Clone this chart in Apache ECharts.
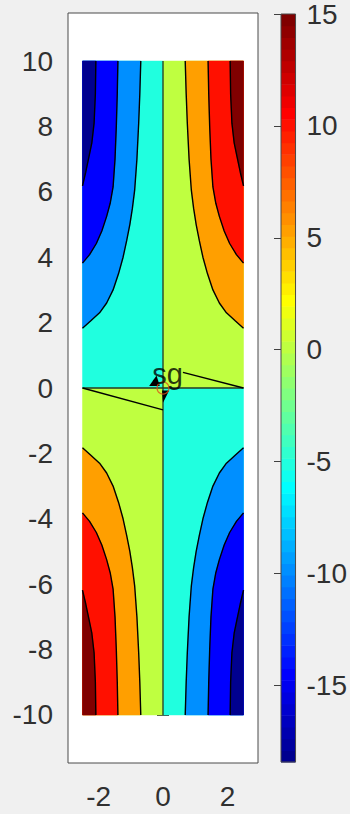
<!DOCTYPE html>
<html><head><meta charset="utf-8">
<script src="https://cdn.jsdelivr.net/npm/echarts@6/dist/echarts.min.js"></script>
<style>html,body{margin:0;padding:0;background:#f0f0f0;}#c{width:350px;height:814px;}</style>
</head><body><div id="c"></div>
<script>
// ---- data ----
const xTicks = [-2, 0, 2];
const yTicks = [-10, -8, -6, -4, -2, 0, 2, 4, 6, 8, 10];
const cbarTicks = [-15, -10, -5, 0, 5, 10, 15];
const cbarRange = [-18.42, 15.0];
const xLimits = [-2.95, 2.95];
const yLimits = [-11.47, 11.47];

// contour line level c
const curveC_UL = [[-0.69,10],[-0.72,9],[-0.755,8.1],[-0.81,7],[-0.88,6.05],[-0.95,5.5],[-1.03,5],[-1.13,4.5],[-1.24,4],[-1.38,3.5],[-1.55,3],[-1.75,2.6],[-1.97,2.3],[-2.25,2.05],[-2.5,1.83]];
const curveC_UR = [[0.69,10],[0.72,9],[0.755,8.1],[0.81,7],[0.88,6.05],[0.95,5.5],[1.03,5],[1.13,4.5],[1.24,4],[1.38,3.5],[1.55,3],[1.75,2.6],[1.97,2.3],[2.25,2.05],[2.5,1.83]];
const curveC_LL = [[-0.69,-10],[-0.72,-9],[-0.755,-8.1],[-0.81,-7],[-0.88,-6.05],[-0.95,-5.5],[-1.03,-5],[-1.13,-4.5],[-1.24,-4],[-1.38,-3.5],[-1.55,-3],[-1.75,-2.6],[-1.97,-2.3],[-2.25,-2.05],[-2.5,-1.83]];
const curveC_LR = [[0.69,-10],[0.72,-9],[0.755,-8.1],[0.81,-7],[0.88,-6.05],[0.95,-5.5],[1.03,-5],[1.13,-4.5],[1.24,-4],[1.38,-3.5],[1.55,-3],[1.75,-2.6],[1.97,-2.3],[2.25,-2.05],[2.5,-1.83]];
// level 2c
const curve2C_UL = [[-1.40,10],[-1.42,9],[-1.45,8],[-1.49,7],[-1.55,6.15],[-1.64,5.65],[-1.75,5.25],[-1.9,4.8],[-2.07,4.42],[-2.28,4.08],[-2.5,3.82]];
const curve2C_UR = [[1.40,10],[1.42,9],[1.45,8],[1.49,7],[1.55,6.15],[1.64,5.65],[1.75,5.25],[1.9,4.8],[2.07,4.42],[2.28,4.08],[2.5,3.82]];
const curve2C_LL = [[-1.40,-10],[-1.42,-9],[-1.45,-8],[-1.49,-7],[-1.55,-6.15],[-1.64,-5.65],[-1.75,-5.25],[-1.9,-4.8],[-2.07,-4.42],[-2.28,-4.08],[-2.5,-3.82]];
const curve2C_LR = [[1.40,-10],[1.42,-9],[1.45,-8],[1.49,-7],[1.55,-6.15],[1.64,-5.65],[1.75,-5.25],[1.9,-4.8],[2.07,-4.42],[2.28,-4.08],[2.5,-3.82]];
// level 3c
const curve3C_UL = [[-2.085,10],[-2.1,9],[-2.14,8.1],[-2.21,7.5],[-2.30,7.07],[-2.4,6.6],[-2.5,6.18]];
const curve3C_UR = [[2.085,10],[2.1,9],[2.14,8.1],[2.21,7.5],[2.30,7.07],[2.4,6.6],[2.5,6.18]];
const curve3C_LL = [[-2.085,-10],[-2.1,-9],[-2.14,-8.1],[-2.21,-7.5],[-2.30,-7.07],[-2.4,-6.6],[-2.5,-6.18]];
const curve3C_LR = [[2.085,-10],[2.1,-9],[2.14,-8.1],[2.21,-7.5],[2.30,-7.07],[2.4,-6.6],[2.5,-6.18]];

// quadrant rectangles of the data domain
const quadUL = [[-2.5,0],[0,0],[0,10],[-2.5,10]];
const quadUR = [[0,0],[2.5,0],[2.5,10],[0,10]];
const quadLL = [[-2.5,-10],[0,-10],[0,0],[-2.5,0]];
const quadLR = [[0,-10],[2.5,-10],[2.5,0],[0,0]];

// overlay
const zeroV = [[0,-10],[0,10]];
const zeroH = [[-2.5,0],[2.5,0]];
const pathA = [[-2.5,0],[0,-0.67]];
const pathB = [[2.5,0],[0.62,0.48]];
const arrowA = [[-0.43,0.06],[-0.2,0.38],[-0.1,0.06]];
const arrowB = [[-0.03,-0.08],[0.19,-0.08],[0.0,-0.45]];
const saddle = [0, 0];
const saddleLabelAt = [-0.33, 0.42];
const saddleLabel = 'sg';

// ---- styles ----
const C = {navy:'#00008f', blue:'#0000ff', lblue:'#008fff', cyan:'#20ffdf', lgreen:'#bfff40', orange:'#ff9f00', red:'#ff1000', dred:'#800000'};

function jet(i){ // MATLAB jet(64) colormap
  let r,g,b;
  r = i<24?0:(i<40?(i-23)/16:(i<56?1:(16-(i-55))/16));
  g = i<8?0:(i<24?(i-7)/16:(i<40?1:(i<56?(16-(i-39))/16:0)));
  b = i<8?(i+9)/16:(i<24?1:(i<40?(16-(i-23))/16:0));
  const h=v=>Math.round(v*255).toString(16).padStart(2,'0');
  return '#'+h(r)+h(g)+h(b);
}

const polys = [
  {pts:quadUL, color:C.cyan},{pts:quadLR, color:C.cyan},
  {pts:quadUR, color:C.lgreen},{pts:quadLL, color:C.lgreen},
  {pts:curveC_UL.concat([[-2.5,10]]), color:C.lblue},
  {pts:curveC_LR.concat([[2.5,-10]]), color:C.lblue},
  {pts:curveC_UR.concat([[2.5,10]]), color:C.orange},
  {pts:curveC_LL.concat([[-2.5,-10]]), color:C.orange},
  {pts:curve2C_UL.concat([[-2.5,10]]), color:C.blue},
  {pts:curve2C_LR.concat([[2.5,-10]]), color:C.blue},
  {pts:curve2C_UR.concat([[2.5,10]]), color:C.red},
  {pts:curve2C_LL.concat([[-2.5,-10]]), color:C.red},
  {pts:curve3C_UL.concat([[-2.5,10]]), color:C.navy},
  {pts:curve3C_LR.concat([[2.5,-10]]), color:C.navy},
  {pts:curve3C_UR.concat([[2.5,10]]), color:C.dred},
  {pts:curve3C_LL.concat([[-2.5,-10]]), color:C.dred}
];

const lines = [curveC_UL,curveC_UR,curveC_LL,curveC_LR,curve2C_UL,curve2C_UR,curve2C_LL,curve2C_LR,curve3C_UL,curve3C_UR,curve3C_LL,curve3C_LR];

const FONT = 'Liberation Sans, Arial, sans-serif';
const TXT = '#303030';
const FS = 28;

const series = [];
series.push({
  type:'custom', xAxisIndex:0, yAxisIndex:0, silent:true,
  data: polys.map((p,i)=>[0,0,i]), encode:{x:0,y:1},
  renderItem:(params,api)=>{
    const p = polys[params.dataIndex];
    return {type:'polygon', shape:{points:p.pts.map(q=>api.coord(q))}, style:{fill:p.color, stroke:p.color, lineWidth:0.5}};
  }, z:1
});
lines.forEach(l=>series.push({type:'line', xAxisIndex:0, yAxisIndex:0, data:l, symbol:'none', silent:true,
  lineStyle:{color:'#000', width:1.4}, z:3}));
[zeroV, zeroH].forEach(l=>series.push({type:'line', xAxisIndex:0, yAxisIndex:0, data:l, symbol:'none', silent:true,
  lineStyle:{color:'#1e3a2a', width:1.3}, z:3}));
[pathA, pathB].forEach(l=>series.push({type:'line', xAxisIndex:0, yAxisIndex:0, data:l, symbol:'none', silent:true,
  lineStyle:{color:'#000', width:1.4}, z:4}));
series.push({
  type:'custom', xAxisIndex:0, yAxisIndex:0, silent:true,
  data:[[0,0,0],[0,0,1]], encode:{x:0,y:1},
  renderItem:(params,api)=>{
    const t = [arrowA, arrowB][params.dataIndex];
    return {type:'polygon', shape:{points:t.map(q=>api.coord(q))}, style:{fill:'#000'}};
  }, z:5
});
series.push({type:'scatter', xAxisIndex:0, yAxisIndex:0, data:[saddle], symbol:'circle', symbolSize:12, silent:true,
  itemStyle:{color:'transparent', borderColor:'#d95319', borderWidth:1.2}, z:6});
series.push({type:'scatter', xAxisIndex:0, yAxisIndex:0, data:[saddleLabelAt], symbolSize:0, silent:true,
  label:{show:true, position:'right', distance:0, formatter:saddleLabel, fontFamily:FONT, fontSize:29, color:'#000'}, z:7});

// colorbar
const nCol = 64;
series.push({
  type:'custom', xAxisIndex:2, yAxisIndex:2, silent:true,
  data: Array.from({length:nCol},(_,i)=>[0,0,i]), encode:{x:0,y:1},
  renderItem:(params,api)=>{
    const i = params.dataIndex;
    const step = (cbarRange[1]-cbarRange[0])/nCol;
    const a = api.coord([0, cbarRange[0]+i*step]);
    const b = api.coord([1, cbarRange[0]+(i+1)*step]);
    return {type:'rect', shape:{x:a[0], y:b[1], width:b[0]-a[0], height:a[1]-b[1]+0.6}, style:{fill:jet(i)}};
  }
});

const tickStyle = {show:true, inside:true, length:6, lineStyle:{color:'#404040', width:1}};
const labelStyle = {fontFamily:FONT, fontSize:FS, color:TXT};

const option = {
  backgroundColor:'#f0f0f0',
  animation:false,
  grid:[
    {left:68, top:13, width:190, height:750, show:true, backgroundColor:'#ffffff', borderColor:'#4a4a4a', borderWidth:1},
    {left:281, top:13, width:19, height:749, show:true, backgroundColor:'transparent', borderColor:'#4a4a4a', borderWidth:1, z:10}
  ],
  xAxis:[
    {type:'value', gridIndex:0, min:xLimits[0], max:xLimits[1], position:'bottom', axisLine:{show:false}, splitLine:{show:false},
     axisTick:Object.assign({customValues:xTicks}, tickStyle), axisLabel:Object.assign({customValues:xTicks, margin:19, formatter:v=>String(v)}, labelStyle)},
    {type:'value', gridIndex:0, min:xLimits[0], max:xLimits[1], position:'top', axisLine:{show:false}, splitLine:{show:false},
     axisTick:Object.assign({customValues:xTicks}, tickStyle), axisLabel:{show:false}},
    {type:'value', gridIndex:1, min:0, max:1, show:false}
  ],
  yAxis:[
    {type:'value', gridIndex:0, min:yLimits[0], max:yLimits[1], position:'left', axisLine:{show:false}, splitLine:{show:false},
     axisTick:Object.assign({customValues:yTicks}, tickStyle), axisLabel:Object.assign({customValues:yTicks, margin:15, formatter:v=>String(v)}, labelStyle)},
    {type:'value', gridIndex:0, min:yLimits[0], max:yLimits[1], position:'right', axisLine:{show:false}, splitLine:{show:false},
     axisTick:Object.assign({customValues:yTicks}, tickStyle), axisLabel:{show:false}},
    {type:'value', gridIndex:1, min:cbarRange[0], max:cbarRange[1], position:'right', axisLine:{show:false}, splitLine:{show:false},
     axisTick:Object.assign({customValues:cbarTicks}, tickStyle, {length:7}), axisLabel:Object.assign({customValues:cbarTicks, margin:11, formatter:v=>String(v)}, labelStyle)}
  ],
  series: series
};
const chart = echarts.init(document.getElementById('c'), null, {renderer:'svg', width:350, height:814});
chart.setOption(option);
</script></body></html>
